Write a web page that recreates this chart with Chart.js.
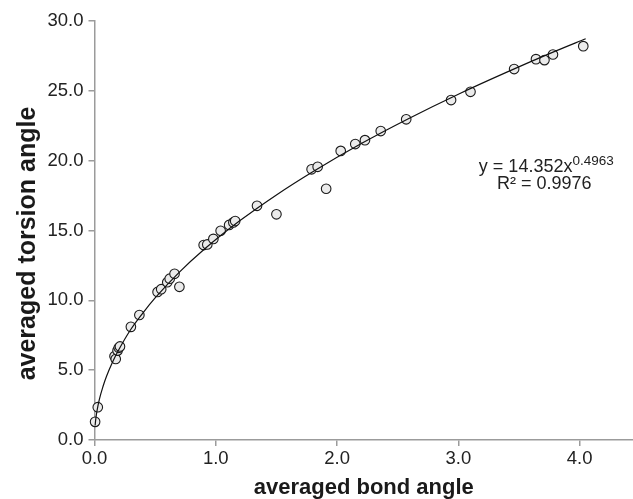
<!DOCTYPE html>
<html>
<head>
<meta charset="utf-8">
<script src="https://cdn.jsdelivr.net/npm/chart.js@4.4.1/dist/chart.umd.min.js"></script>
<style>
  html, body { margin: 0; padding: 0; background: #fff; overflow: hidden; }
  canvas { display: block; }
</style>
</head>
<body>
<canvas id="myChart" width="633" height="499"></canvas>
<script>
// measured points
const bondAngle = [0.005, 0.027, 0.165, 0.175, 0.19, 0.2, 0.21, 0.30, 0.37, 0.52, 0.55, 0.60, 0.62, 0.66, 0.70,
    0.90, 0.93, 0.98, 1.04, 1.11, 1.145, 1.16, 1.34, 1.50, 1.79, 1.84, 1.91, 2.03, 2.15, 2.23, 2.36, 2.57,
    2.94, 3.10, 3.46, 3.64, 3.71, 3.78, 4.03];
const torsionAngle = [1.3, 2.35, 6.0, 5.8, 6.4, 6.6, 6.7, 8.1, 8.95, 10.6, 10.8, 11.3, 11.55, 11.9, 10.97,
    13.96, 14.0, 14.4, 14.98, 15.4, 15.58, 15.68, 16.77, 16.16, 19.38, 19.56, 17.99, 20.7, 21.19, 21.47, 22.12, 22.96,
    24.34, 24.93, 26.56, 27.27, 27.2, 27.6, 28.2];

// power trendline
const trendX = [0.005, 0.01, 0.02, 0.04, 0.07, 0.1, 0.15, 0.2, 0.3, 0.4, 0.5, 0.7, 0.9, 1.2, 1.5, 1.8, 2.2, 2.6, 3.0, 3.4, 3.8, 4.05];
const trendY = [1.04, 1.46, 2.06, 2.91, 3.83, 4.58, 5.60, 6.46, 7.93, 9.11, 10.17, 12.02, 13.62, 15.71, 17.55, 19.21, 21.23, 23.06, 24.76, 26.34, 27.84, 28.73];

const xTicks = [0, 1, 2, 3, 4];
const equationText = 'y = 14.352x';
const exponentText = '0.4963';
const r2Text = 'R\u00B2 = 0.9976';
const yTitle = 'averaged torsion angle';

const FONT = "'Liberation Sans', Arial, Helvetica, sans-serif";
const AXIS_GREY = '#9b9b9b';

const equationLabel = {
    id: 'equationLabel',
    afterDatasetsDraw(chart) {
        const ctx = chart.ctx;
        const xs = chart.scales.x, ys = chart.scales.y;
        const cx = xs.getPixelForValue(3.725);
        const y1 = ys.getPixelForValue(19.2);
        ctx.save();
        ctx.fillStyle = '#222';
        ctx.textBaseline = 'alphabetic';
        ctx.textAlign = 'left';
        ctx.font = '18px ' + FONT;
        const w1 = ctx.measureText(equationText).width;
        ctx.font = '13.5px ' + FONT;
        const w2 = ctx.measureText(exponentText).width;
        let x0 = cx - (w1 + w2) / 2;
        ctx.font = '18px ' + FONT;
        ctx.fillText(equationText, x0, y1);
        ctx.font = '13.5px ' + FONT;
        ctx.fillText(exponentText, x0 + w1, y1 - 7);
        ctx.font = '18px ' + FONT;
        ctx.textAlign = 'center';
        ctx.fillText(r2Text, cx - 2, y1 + 17.6);

        // y axis title, a bit below the plot centre as in the original
        ctx.font = 'bold 25px ' + FONT;
        ctx.fillStyle = '#1a1a1a';
        ctx.textBaseline = 'middle';
        ctx.translate(28, (chart.chartArea.top + chart.chartArea.bottom) / 2 + 13);
        ctx.rotate(-Math.PI / 2);
        ctx.fillText(yTitle, 0, 0);
        ctx.restore();
    }
};

const points = bondAngle.map((b, i) => ({ x: b, y: torsionAngle[i] }));
const trend = trendX.map((t, i) => ({ x: t, y: trendY[i] }));

new Chart(document.getElementById('myChart'), {
    type: 'scatter',
    data: {
        datasets: [
            {
                label: 'trend',
                data: trend,
                showLine: true,
                borderColor: '#111',
                borderWidth: 1.2,
                pointRadius: 0,
                cubicInterpolationMode: 'monotone',
                fill: false,
                order: 0
            },
            {
                label: 'data',
                data: points,
                pointRadius: 4.8,
                pointBorderWidth: 1.1,
                pointBackgroundColor: '#ebebeb',
                pointBorderColor: '#1a1a1a',
                order: 1
            }
        ]
    },
    options: {
        responsive: false,
        animation: false,
        clip: false,
        layout: { autoPadding: false, padding: { top: 21, right: 0, left: 0, bottom: 0 } },
        plugins: {
            legend: { display: false },
            tooltip: { enabled: false }
        },
        scales: {
            x: {
                type: 'linear',
                min: 0,
                max: 4.44,
                afterBuildTicks: (scale) => {
                    scale.ticks = xTicks.map(v => ({ value: v }));
                },
                afterFit: (scale) => {
                    scale.height = 59;
                    scale.paddingLeft = 0;
                    scale.paddingRight = 0;
                },
                grid: { drawOnChartArea: false, drawTicks: true, tickLength: 6, color: AXIS_GREY, lineWidth: 1.5 },
                border: { color: AXIS_GREY, width: 1.5 },
                ticks: {
                    color: '#222',
                    font: { family: FONT, size: 18.5 },
                    padding: 2,
                    maxRotation: 0,
                    callback: (v) => Number(v).toFixed(1)
                },
                title: {
                    display: true,
                    text: 'averaged bond angle',
                    color: '#1a1a1a',
                    font: { family: FONT, size: 22, weight: 'bold', lineHeight: 1 },
                    padding: { top: 0, bottom: 0 }
                }
            },
            y: {
                type: 'linear',
                min: 0,
                max: 30,
                ticks: {
                    stepSize: 5,
                    color: '#222',
                    font: { family: FONT, size: 18.5 },
                    padding: 5,
                    callback: (v) => Number(v).toFixed(1)
                },
                afterFit: (scale) => { scale.width = 94.5; },
                grid: { drawOnChartArea: false, drawTicks: true, tickLength: 6, color: AXIS_GREY, lineWidth: 1.5 },
                border: { color: AXIS_GREY, width: 1.5 },
                title: { display: false }
            }
        }
    },
    plugins: [equationLabel]
});
</script>
</body>
</html>
